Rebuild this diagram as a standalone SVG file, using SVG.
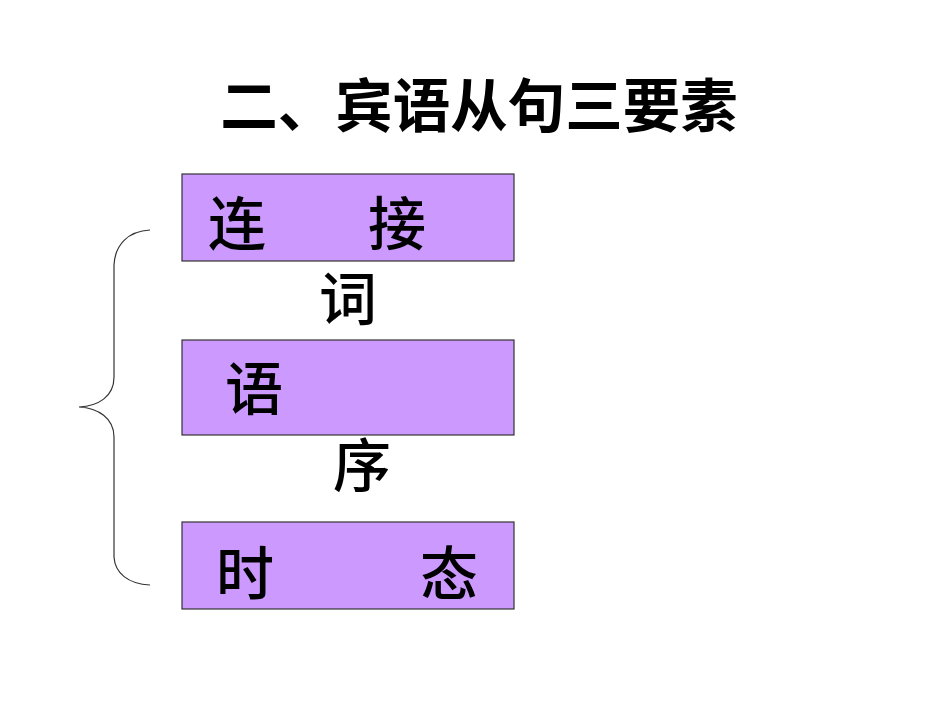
<svg xmlns="http://www.w3.org/2000/svg" width="950" height="713" viewBox="0 0 950 713">
<style>
.box{fill:#CC99FF;stroke:#333333;stroke-width:1.2}
.t{font-family:"Noto Sans CJK SC","Noto Sans",sans-serif;font-size:58px;font-weight:500;fill:#000;text-anchor:middle}
.title{font-family:"Noto Sans CJK SC","Noto Sans",sans-serif;font-size:57.5px;font-weight:bold;fill:#000;text-anchor:middle}
.brace{fill:none;stroke:#333333;stroke-width:1.2}
</style>
<rect width="950" height="713" fill="#fff"/>
<text class="title" x="479" y="127">二、宾语从句三要素</text>
<g id="brace"><path class="brace" d="M150,230 C128,231 115,245 114,265 L114,377 C114,397 98,406 79,407 C98,408 114,418 114,437 L114,557 C115,573 128,584 150,585"/></g>
<g id="node-lianjieci">
<rect class="box" x="182" y="174" width="332" height="87"/>
<text class="t" x="237" y="245">连</text>
<text class="t" x="397" y="245">接</text>
<text class="t" x="348" y="320">词</text>
</g>
<g id="node-yuxu">
<rect class="box" x="182" y="340" width="332" height="95"/>
<text class="t" x="254" y="410">语</text>
<text class="t" x="362" y="487">序</text>
</g>
<g id="node-shitai">
<rect class="box" x="182" y="522" width="332" height="87"/>
<text class="t" x="245" y="595">时</text>
<text class="t" x="449" y="595">态</text>
</g>
<g id="connectors"></g>
</svg>
